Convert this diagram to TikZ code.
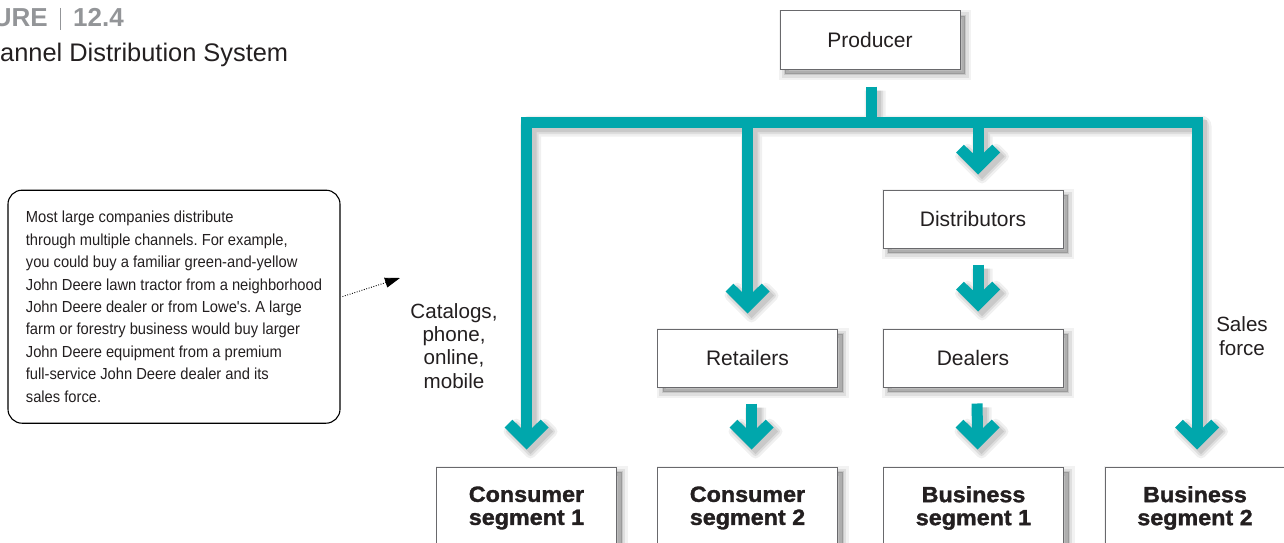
\documentclass[tikz,border=0pt]{standalone}
\usepackage{fontspec}
\setmainfont{Liberation Sans}
\newfontfamily\condfont{Liberation Sans}[FakeStretch=0.92]
\newfontfamily\heavyfont{Liberation Sans}[FakeStretch=1.06, BoldFeatures={FakeBold=1.5}]
\usetikzlibrary{arrows.meta,calc}
\definecolor{tealc}{RGB}{0,167,172}
\definecolor{ink}{RGB}{35,31,32}
\definecolor{figgray}{RGB}{147,149,152}
\definecolor{boxline}{RGB}{105,105,108}
\frenchspacing
\newcommand\tealtree[2]{%
  \draw[#1] ($(t1)+(0,-20)$) |- (hub -| t4) -- ($(t4)+(0,-20)$);
  \draw[#1] (hubtop) -- (hub);
  \draw[#1] (tr |- hub) -- ($(tr)+(0,-20)$);
  \draw[#1] (td |- hub) -- ($(td)+(0,-20)$);
  \draw[#1] (s5) -- ($(tdl)+(0,-20)$);
  \draw[#1] (s6) -- ($(t2)+(0,-20)$);
  \draw[#1] (s7) -- ($(t3)+(0,-20)$);
  \foreach \t in {t1,t2,t3,t4,tr,td,tdl}
    \path[#2] ($(\t)+(-5.5,-21.5)$) -- ($(\t)+(-14.2,-29.8)$) -- ($(\t)+(-22,-22)$)
      -- (\t) -- ($(\t)+(22,-22)$) -- ($(\t)+(14.2,-29.8)$) -- ($(\t)+(5.5,-21.5)$) -- cycle;
}
\begin{document}
\begin{tikzpicture}[x=1pt,y=-1pt,
  boxshadow/.style={
    preaction={draw=black, fill=black, opacity=0.05, line width=12pt, transform canvas={shift={(5pt,-5pt)}}},
    preaction={draw=black, fill=black, opacity=0.08, line width=7pt, transform canvas={shift={(5pt,-5pt)}}},
    preaction={draw=black, fill=black, opacity=0.11, line width=2pt, transform canvas={shift={(5pt,-5pt)}}}},
  box/.style={draw=boxline, line width=1pt, fill=white, minimum width=180pt, minimum height=58pt,
    inner sep=0pt, text=ink, font=\fontsize{21}{25}\selectfont, boxshadow},
  segbox/.style={box, minimum height=82pt, align=center,
    font=\heavyfont\bfseries\fontsize{22}{23}\selectfont},
  lab/.style={inner sep=0pt, text=ink, align=center, font=\fontsize{20.6}{23.3}\selectfont},
  dottedarrow/.style={black, line width=0.9pt, dash pattern=on 0.9pt off 1.6pt,
    -{Triangle[length=15pt,width=10pt]}, shorten <=2pt}
]
\path[use as bounding box, clip] (0,0) rectangle (1284,543);

% title
\node[inner sep=0pt, anchor=base east, text=figgray, font=\bfseries\fontsize{26}{26}\selectfont] (figlbl) at (48,27) {URE};
\draw[figgray, line width=1.3pt] (60.7,8) -- (60.7,30);
\node[inner sep=0pt, anchor=base west, text=figgray, font=\bfseries\fontsize{26}{26}\selectfont] (fignum) at (73,27) {12.4};
\node[inner sep=0pt, anchor=base west, text=ink, font=\fontsize{25.4}{26}\selectfont] (figtitle) at (0,61) {annel Distribution System};

% callout
\node[draw=black, line width=1.1pt, rounded corners=14pt, minimum width=332pt, minimum height=233pt,
  inner sep=0pt, align=left, text=ink, font=\condfont\fontsize{16}{22.4}\selectfont] (call) at (174,306.7)
  {Most large companies distribute\\through multiple channels. For example,\\you could buy a familiar green-and-yellow\\John Deere lawn tractor from a neighborhood\\John Deere dealer or from Lowe's. A large\\farm or forestry business would buy larger\\John Deere equipment from a premium\\full-service John Deere dealer and its\\sales force.};
\coordinate (ctip) at (400,278);
\draw[dottedarrow] ([yshift=9.5pt]call.east) -- (ctip);

% boxes
\node[box] (prod) at (870,40) {Producer};
\node[box] (dist) at (973,219) {Distributors};
\node[box] (ret) at (747.5,358) {Retailers};
\node[box] (deal) at (973,358) {Dealers};
\node[segbox] (c1) at (526.5,508) {Consumer\\segment 1};
\node[segbox] (c2) at (747.5,508) {Consumer\\segment 2};
\node[segbox] (b1) at (973.5,508) {Business\\segment 1};
\node[segbox] (b2) at (1195,508) {Business\\segment 2};

% labels
\node[lab, anchor=north] (chan) at (454,303) {Catalogs,\\phone,\\online,\\mobile};
\node[lab, anchor=north] (sales) at (1242,316.7) {Sales\\force};

% connector geometry
\coordinate (hub) at ([xshift=1pt,yshift=-52.5pt]prod.south);
\coordinate (hubtop) at ([xshift=1pt,yshift=-17pt]prod.south);
\coordinate (t1) at ([yshift=17pt]c1.north);
\coordinate (t2) at ([xshift=4pt,yshift=17pt]c2.north);
\coordinate (t3) at ([xshift=4pt,yshift=17pt]b1.north);
\coordinate (t4) at ([xshift=2pt,yshift=17pt]b2.north);
\coordinate (tr) at ([yshift=15pt]ret.north);
\coordinate (td) at ([xshift=5pt,yshift=15pt]dist.north);
\coordinate (tdl) at ([xshift=5pt,yshift=17pt]deal.north);
\coordinate (s5) at ([xshift=5pt,yshift=-16pt]dist.south);
\coordinate (s6) at ([xshift=4pt,yshift=-16pt]ret.south);
\coordinate (s7) at ([xshift=4pt,yshift=-16pt]deal.south);

% shadows of teal connectors
\begin{scope}[transform canvas={shift={(4pt,-4pt)}}]
  \begin{scope}[transparency group, opacity=0.06]
    \tealtree{draw=black, line width=21pt, line join=round}{fill=black, draw=black, line width=10pt, line join=round}
  \end{scope}
  \begin{scope}[transparency group, opacity=0.08]
    \tealtree{draw=black, line width=16pt, line join=round}{fill=black, draw=black, line width=5pt, line join=round}
  \end{scope}
  \begin{scope}[transparency group, opacity=0.09]
    \tealtree{draw=black, line width=12pt}{fill=black, draw=black, line width=1pt}
  \end{scope}
\end{scope}
% teal connectors
\tealtree{draw=tealc, line width=11pt, line join=miter}{fill=tealc}
\end{tikzpicture}
\end{document}
